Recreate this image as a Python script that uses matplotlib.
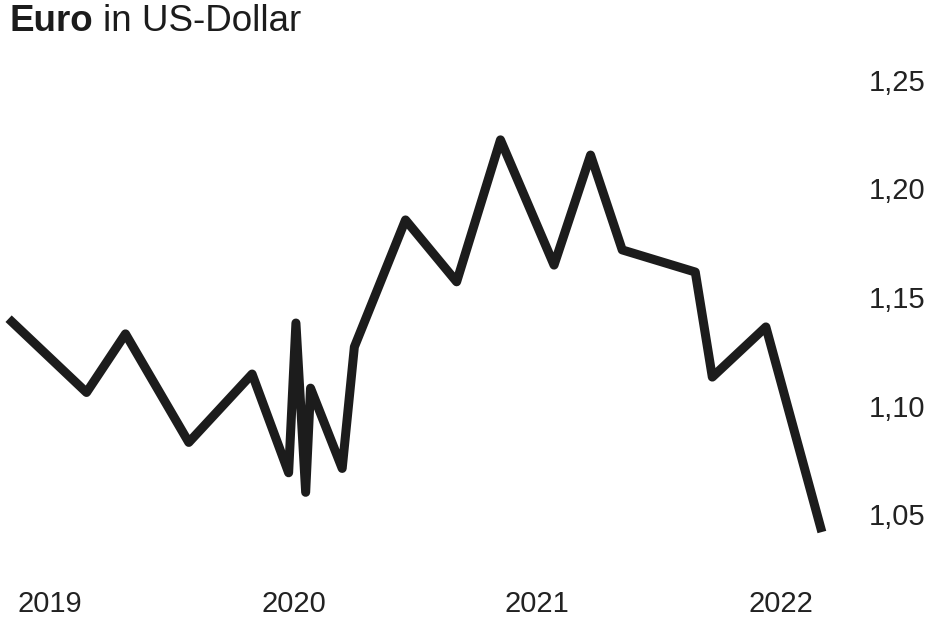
import matplotlib.pyplot as plt

plt.rcParams['font.family'] = ['Liberation Sans', 'DejaVu Sans']

# Euro in US-Dollar, time as decimal years
t = [2018.83, 2019.15, 2019.31, 2019.57, 2019.83, 2019.98, 2020.01, 2020.05,
     2020.07, 2020.20, 2020.25, 2020.46, 2020.67, 2020.85, 2021.07, 2021.22,
     2021.35, 2021.65, 2021.72, 2021.94, 2022.17]
rate = [1.140, 1.106, 1.133, 1.083, 1.1145, 1.069, 1.138, 1.060,
        1.108, 1.071, 1.127, 1.1855, 1.157, 1.2224, 1.1647, 1.2154,
        1.1717, 1.1615, 1.1131, 1.1362, 1.0417]

years = [2019, 2020, 2021, 2022]
yticks = [1.05, 1.10, 1.15, 1.20, 1.25]
ylabels = ['1,05', '1,10', '1,15', '1,20', '1,25']

fig = plt.figure(figsize=(9.3, 6.2), dpi=100)
ax = fig.add_axes([0, 45/620, 855/930, 515/620])

ax.plot(t, rate, color='#1c1c1c', lw=6.5, solid_joinstyle='round',
        solid_capstyle='butt')

ax.set_xlim(2018.7947, 2022.3060)
ax.set_ylim(1.0219, 1.2592)

ax.yaxis.tick_right()
ax.set_yticks(yticks)
ax.set_yticklabels(ylabels)
ax.set_xticks(years)
ax.set_xticklabels([str(y) for y in years])
ax.tick_params(length=0, labelsize=21, colors='#222222')
ax.tick_params(axis='y', pad=10)
ax.tick_params(axis='x', pad=11)
for s in ax.spines.values():
    s.set_visible(False)

t1 = fig.text(0.01, 0.965, 'Euro', fontsize=26.5, fontweight='bold',
              color='#1c1c1c', va='center')
fig.canvas.draw()
bb = t1.get_window_extent()
fig.text((bb.x1 + 10) / 930, 0.965, 'in US-Dollar', fontsize=26.5,
         color='#1c1c1c', va='center')

fig.savefig('out.png', dpi=100)
